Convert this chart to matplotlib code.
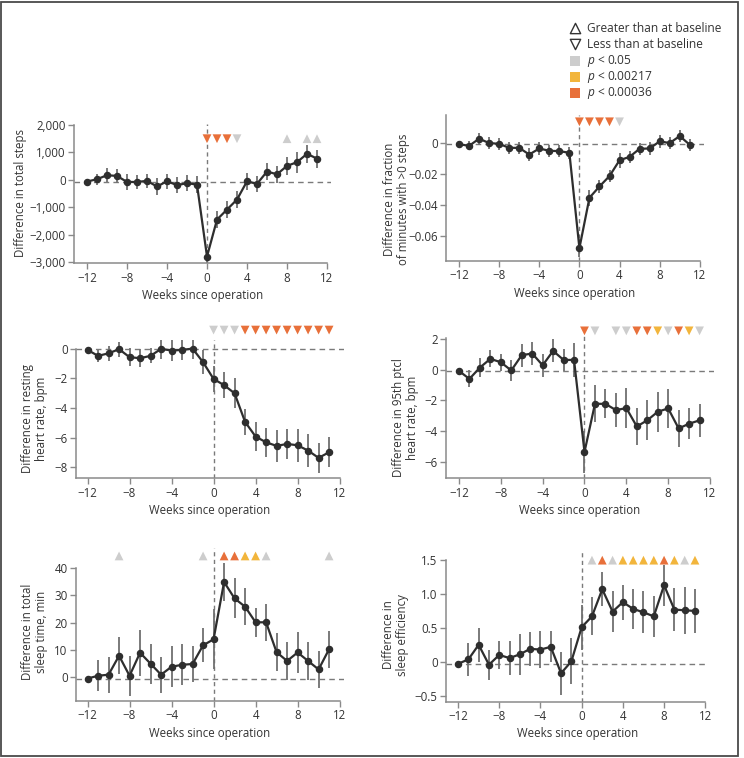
import matplotlib
matplotlib.use("Agg")
import matplotlib.pyplot as plt
from matplotlib.patches import Rectangle

plt.rcParams['font.family'] = ['Open Sans', 'DejaVu Sans']
plt.rcParams['mathtext.fontset'] = 'custom'
plt.rcParams['mathtext.it'] = 'Open Sans:italic'
plt.rcParams['mathtext.rm'] = 'Open Sans'

# weeks relative to the operation
weeks = list(range(-12, 12))

# values
steps = [-60, 25, 170, 145, -75, -75, -35, -240, -50, -190, -120, -170,
         -2790, -1445, -1080, -715, -50, -145, 305, 205, 510, 645, 950, 775]
steps_err = [100, 200, 250, 250, 300, 250, 250, 300, 280, 300, 300, 300,
             250, 300, 300, 300, 310, 280, 300, 300, 330, 380, 320, 330]

frac = [-0.0009, -0.002, 0.0026, -0.0002, -0.0007, -0.0033, -0.0033, -0.0076,
        -0.0037, -0.0052, -0.0054, -0.0065, -0.068, -0.0355, -0.0282, -0.0215,
        -0.0113, -0.0091, -0.0039, -0.0037, 0.0009, -0.0002, 0.0043, -0.0013]
frac_err = [0.001, 0.003, 0.004, 0.004, 0.004, 0.004, 0.004, 0.004, 0.004, 0.004,
            0.004, 0.004, 0.006, 0.005, 0.004, 0.004, 0.005, 0.004, 0.004, 0.004,
            0.004, 0.004, 0.004, 0.004]

rhr = [-0.07, -0.47, -0.3, -0.02, -0.56, -0.63, -0.47, 0.0, -0.11, -0.07, 0.02, -0.9,
       -2.03, -2.45, -3.0, -4.93, -5.92, -6.31, -6.55, -6.42, -6.51, -6.87, -7.36, -6.98]
rhr_err = [0.05, 0.4, 0.5, 0.5, 0.6, 0.6, 0.5, 0.7, 0.7, 0.7, 0.7, 0.8,
           0.9, 0.9, 1.0, 0.9, 1.0, 1.0, 1.1, 1.0, 1.1, 1.1, 1.0, 1.0]

hr95 = [-0.07, -0.59, 0.15, 0.72, 0.5, -0.04, 0.96, 1.07, 0.3, 1.24, 0.65, 0.65,
        -5.37, -2.22, -2.22, -2.63, -2.5, -3.7, -3.3, -2.74, -2.52, -3.83, -3.52, -3.3]
hr95_err = [0.1, 0.55, 0.6, 0.55, 0.55, 0.7, 0.75, 0.75, 0.75, 0.75, 0.7, 1.1,
            1.4, 1.2, 0.95, 1.1, 1.3, 1.2, 1.3, 1.3, 1.25, 1.2, 1.0, 1.1]

sleep = [-0.4, 0.6, 1.0, 7.9, 0.6, 9.0, 5.0, 1.0, 3.9, 4.6, 4.9, 11.7,
         13.9, 34.8, 28.8, 25.8, 20.1, 20.1, 9.2, 6.0, 9.1, 6.0, 2.9, 10.3]
sleep_err = [0.5, 5.6, 6.5, 6.8, 7.3, 8.3, 7.3, 6.5, 7.5, 7.5, 6.7, 6.2,
             11, 7, 7.3, 6.7, 5.2, 6.8, 7, 6.8, 7.4, 6.8, 6.6, 6.8]

eff = [-0.03, 0.034, 0.25, -0.044, 0.10, 0.054, 0.11, 0.19, 0.18, 0.22, -0.17, 0.005,
       0.51, 0.67, 1.07, 0.74, 0.88, 0.78, 0.73, 0.67, 1.13, 0.77, 0.76, 0.75]
eff_err = [0.02, 0.25, 0.25, 0.22, 0.2, 0.25, 0.3, 0.25, 0.27, 0.23, 0.32, 0.34,
           0.33, 0.28, 0.25, 0.3, 0.26, 0.29, 0.31, 0.3, 0.3, 0.32, 0.35, 0.32]

# significance markers: (week, level) ; level 1: p<0.05, 2: p<0.00217, 3: p<0.00036
steps_sig_down = [(0, 3), (1, 3), (2, 3), (3, 1)]
steps_sig_up = [(8, 1), (10, 1), (11, 1)]
frac_sig_down = [(0, 3), (1, 3), (2, 3), (3, 3), (4, 1)]
rhr_sig_down = [(0, 1), (1, 1), (2, 1)] + [(w, 3) for w in range(3, 12)]
hr95_sig_down = [(0, 3), (1, 1), (3, 1), (4, 1), (5, 3), (6, 3), (7, 2),
                 (8, 1), (9, 3), (10, 2), (11, 1)]
sleep_sig_up = [(-9, 1), (-1, 1), (1, 3), (2, 3), (3, 2), (4, 2), (5, 1), (11, 1)]
eff_sig_up = [(1, 1), (2, 3), (3, 1), (4, 2), (5, 2), (6, 2), (7, 2), (8, 3),
              (9, 2), (10, 1), (11, 2)]

sig_colors = {1: '#cdcdcd', 2: '#f2b53c', 3: '#e8703a'}
legend_labels = ['Greater than at baseline', 'Less than at baseline',
                 '$\\mathit{p}$ < 0.05', '$\\mathit{p}$ < 0.00217', '$\\mathit{p}$ < 0.00036']

W, H = 744, 758
fig = plt.figure(figsize=(W / 100, H / 100), dpi=100)

TXT = '#333333'
SPINE = '#8a8a8a'
FS = 8.3


def make_axes(left, top, right, bottom):
    return fig.add_axes([left / W, 1 - bottom / H, (right - left) / W, (bottom - top) / H])


def add_sig(ax, sig, y, up):
    xs = [w for w, _ in sig]
    cs = [sig_colors[l] for _, l in sig]
    ax.scatter(xs, [y] * len(xs), marker='^' if up else 'v', s=40, c=cs,
               linewidths=0, clip_on=False, zorder=4)


def panel(rect, xlim, ylim, yticks, yticklabels, spine_top, vals, errs, base,
          ylabel, label_px):
    ax = make_axes(*rect)
    ax.set_xlim(*xlim)
    ax.set_ylim(*ylim)
    ax.patch.set_alpha(0)
    for s in ['top', 'right']:
        ax.spines[s].set_visible(False)
    for s in ['left', 'bottom']:
        ax.spines[s].set_color(SPINE)
        ax.spines[s].set_linewidth(1.1)
    ax.spines['bottom'].set_bounds(xlim[0], 12)
    ax.spines['left'].set_bounds(ylim[0], spine_top)
    ax.set_xticks([-12, -8, -4, 0, 4, 8, 12])
    ax.set_xticklabels(['\u221212', '\u22128', '\u22124', '0', '4', '8', '12'])
    ax.set_yticks(yticks)
    ax.set_yticklabels(yticklabels)
    ax.tick_params(colors=SPINE, labelcolor=TXT, labelsize=FS, length=4, width=1.0, pad=2)

    ax.axhline(base, color='#7a7a7a', lw=1.0, ls=(0, (4, 3)), zorder=1)
    ax.plot([0, 0], [ylim[0], ylim[1]], color='#7a7a7a', lw=1.0, ls=(0, (3, 2.5)), zorder=1)

    ax.errorbar(weeks, vals, yerr=errs, fmt='none', ecolor='#707070', elinewidth=1.3,
                capsize=0, zorder=2)
    ax.plot(weeks, vals, color='#2e2e2e', lw=1.6, marker='o', ms=4.4, zorder=3)

    ax.set_xlabel('Weeks since operation', fontsize=FS, color=TXT, labelpad=3)
    ax.set_ylabel(ylabel, fontsize=FS, color=TXT, multialignment='center',
                  linespacing=1.1)
    lx, ly = label_px
    ax.yaxis.set_label_coords((lx - rect[0]) / (rect[2] - rect[0]),
                              (rect[3] - ly) / (rect[3] - rect[1]))
    return ax


ax1 = panel((74, 123.6, 331, 263.4), (-13.3, 12.4), (-3040, 2050),
            [-3000, -2000, -1000, 0, 1000, 2000],
            ['\u22123,000', '\u22122,000', '\u22121,000', '0', '1,000', '2,000'], 2000,
            steps, steps_err, -60, 'Difference in total steps', (27, 193))
add_sig(ax1, steps_sig_down, 1500, False)
add_sig(ax1, steps_sig_up, 1500, True)

ax2 = panel((446, 115, 703.8, 261), (-13.3, 12.4), (-0.0763, 0.0179),
            [-0.06, -0.04, -0.02, 0], ['\u22120.06', '\u22120.04', '\u22120.02', '0'], 0.0179,
            frac, frac_err, -0.001, 'Difference in fraction\nof minutes with >0 steps',
            (410, 199))
add_sig(ax2, frac_sig_down, 0.0135, False)

ax3 = panel((76, 340, 343.8, 478.3), (-13.1, 12.4), (-8.74, 0.6),
            [-8, -6, -4, -2, 0], ['\u22128', '\u22126', '\u22124', '\u22122', '0'], 0,
            rhr, rhr_err, 0.0, 'Difference in resting\nheart rate, bpm', (48, 419))
add_sig(ax3, rhr_sig_down, 1.27, False)

ax4 = panel((446, 335, 714.2, 478.3), (-13.24, 12.4), (-7.09, 2.28),
            [-6, -4, -2, 0, 2], ['\u22126', '\u22124', '\u22122', '0', '2'], 2.1,
            hr95, hr95_err, -0.08, 'Difference in 95th ptcl\nheart rate, bpm', (419, 418))
add_sig(ax4, hr95_sig_down, 2.55, False)

ax5 = panel((76, 548, 343.8, 701), (-13.1, 12.4), (-8.6, 47.2),
            [0, 10, 20, 30, 40], ['0', '10', '20', '30', '40'], 40,
            sleep, sleep_err, -0.4, 'Difference in total\nsleep time, min', (48, 632))
add_sig(ax5, sleep_sig_up, 44.3, True)

ax6 = panel((446, 550, 709.4, 701.7), (-13.17, 12.4), (-0.59, 1.65),
            [-0.5, 0, 0.5, 1.0, 1.5], ['\u22120.5', '0', '0.5', '1.0', '1.5'], 1.5,
            eff, eff_err, -0.03, 'Difference in\nsleep efficiency', (409, 635))
add_sig(ax6, eff_sig_up, 1.5, True)

# overlay for legend and frame, in pixel coordinates
ov = fig.add_axes([0, 0, 1, 1])
ov.set_xlim(0, W)
ov.set_ylim(H, 0)
ov.axis('off')
ov.add_patch(Rectangle((1, 2), 737, 754, fill=False, edgecolor='#4a4a4a', lw=1.3))

leg_y = [28, 44, 61, 77, 93]
ov.scatter([575], [leg_y[0]], marker='^', s=55, facecolors='white', edgecolors='#333333',
           linewidths=1.0)
ov.scatter([575], [leg_y[1]], marker='v', s=55, facecolors='white', edgecolors='#333333',
           linewidths=1.0)
for yy, lvl in zip(leg_y[2:], [1, 2, 3]):
    ov.scatter([575], [yy], marker='s', s=42, c=sig_colors[lvl], linewidths=0)
for yy, lab in zip(leg_y, legend_labels):
    ov.text(587, yy, lab, fontsize=8.6, color=TXT, va='center', ha='left')

fig.savefig('out.png', dpi=100)
